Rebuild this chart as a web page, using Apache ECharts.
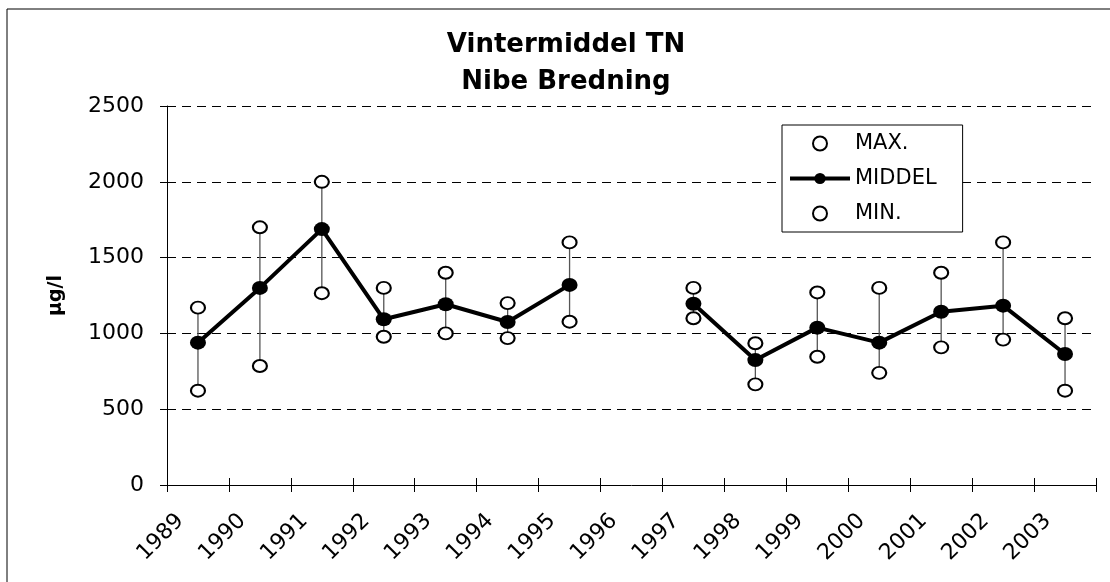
<!DOCTYPE html>
<html>
<head>
<meta charset="utf-8">
<script src="https://cdn.jsdelivr.net/npm/echarts@6/dist/echarts.min.js"></script>
<style>
html,body{margin:0;padding:0;background:#fff;}
#c{width:1110px;height:582px;}
</style>
</head>
<body>
<div id="c"></div>
<script>
var years = [1989, 1990, 1991, 1992, 1993, 1994, 1995, 1996, 1997, 1998, 1999, 2000, 2001, 2002, 2003];
var maxVals = [1170, 1700, 2000, 1300, 1400, 1200, 1600, null, 1300, 935, 1270, 1300, 1400, 1600, 1100];
var middelVals = [939, 1300, 1688, 1093, 1192, 1075, 1320, null, 1196, 824, 1038, 939, 1143, 1183, 864];
var minVals = [622, 785, 1265, 978, 1000, 969, 1077, null, 1100, 664, 846, 740, 908, 959, 622];
var yTicks = [0, 500, 1000, 1500, 2000, 2500];

var FONT = 'DejaVu Sans';
function pairs(vals) {
  return years.map(function (y, i) { return [y + 0.5, vals[i]]; });
}
var hiLo = years.map(function (y, i) { return [y + 0.5, minVals[i], maxVals[i]]; })
  .filter(function (d) { return d[1] != null && d[2] != null; });

var chart = echarts.init(document.getElementById('c'), null, {renderer: 'canvas'});
var option = {
  animation: false,
  backgroundColor: '#fff',
  graphic: [{
    type: 'rect', z: -10, silent: true,
    shape: {x: 7, y: 9, width: 1200, height: 700},
    style: {fill: 'none', stroke: '#000', lineWidth: 1}
  }],
  title: {
    text: 'Vintermiddel TN\nNibe Bredning',
    left: 561, top: 22, textAlign: 'center',
    textStyle: {fontFamily: FONT, fontWeight: 'bold', fontSize: 26, lineHeight: 37, color: '#000'}
  },
  legend: {
    data: ['MAX.', 'MIDDEL', 'MIN.'],
    orient: 'vertical', left: 782, top: 125,
    padding: [8, 26, 8, 6],
    itemWidth: 60, itemHeight: 14, itemGap: 14,
    borderColor: '#000', borderWidth: 1, backgroundColor: '#fff',
    lineStyle: {width: 4},
    textStyle: {fontFamily: FONT, fontSize: 21, color: '#000'}
  },
  grid: {left: 167, right: 14, top: 106, bottom: 97, containLabel: false},
  xAxis: [{
    type: 'value', min: 1989, max: 2004, interval: 1,
    axisLine: {show: true, lineStyle: {color: '#000', width: 1}},
    axisTick: {show: true, length: 7, lineStyle: {color: '#000'}},
    splitLine: {show: false},
    axisLabel: {
      rotate: 45, margin: 19, verticalAlign: 'top', lineHeight: 38,
      showMinLabel: true, hideOverlap: false,
      fontFamily: FONT, fontSize: 22, color: '#000',
      formatter: function (v) { return years.indexOf(v) >= 0 ? String(v) : ''; }
    }
  }, {
    type: 'value', min: 1989, max: 2004, interval: 1, position: 'bottom',
    axisLine: {show: false},
    axisTick: {show: true, inside: true, length: 7, lineStyle: {color: '#000'}},
    splitLine: {show: false},
    axisLabel: {show: false}
  }],
  yAxis: {
    type: 'value', min: yTicks[0], max: yTicks[yTicks.length - 1], interval: 500,
    name: 'µg/l', nameLocation: 'middle', nameGap: 101,
    nameTextStyle: {fontFamily: FONT, fontWeight: 'bold', fontSize: 19, color: '#000'},
    axisLine: {show: true, lineStyle: {color: '#000', width: 1}},
    axisTick: {show: true, length: 7, lineStyle: {color: '#000'}},
    splitLine: {show: true, lineStyle: {color: '#000', width: 1, type: [9, 6]}},
    axisLabel: {margin: 23, fontFamily: FONT, fontSize: 22, color: '#000',
      showMinLabel: true, hideOverlap: false,
      formatter: function (v) { return String(v); }}
  },
  series: [{
    type: 'custom', name: 'hilo', silent: true, z: 1,
    data: hiLo,
    renderItem: function (params, api) {
      var p1 = api.coord([api.value(0), api.value(1)]);
      var p2 = api.coord([api.value(0), api.value(2)]);
      return {type: 'line', shape: {x1: p1[0], y1: p1[1], x2: p2[0], y2: p2[1]},
        style: {stroke: '#555', lineWidth: 1.3}};
    },
    encode: {x: 0, y: [1, 2]}
  }, {
    type: 'scatter', name: 'MAX.', z: 3,
    data: pairs(maxVals),
    symbol: 'circle', symbolSize: [14, 12],
    itemStyle: {color: '#fff', borderColor: '#000', borderWidth: 2, opacity: 1}
  }, {
    type: 'line', name: 'MIDDEL', z: 4,
    data: pairs(middelVals), connectNulls: false,
    symbol: 'circle', symbolSize: [16, 14], showSymbol: true,
    lineStyle: {color: '#000', width: 4},
    itemStyle: {color: '#000', borderColor: '#000', borderWidth: 0}
  }, {
    type: 'scatter', name: 'MIN.', z: 3,
    data: pairs(minVals),
    symbol: 'circle', symbolSize: [14, 12],
    itemStyle: {color: '#fff', borderColor: '#000', borderWidth: 2, opacity: 1}
  }]
};
chart.setOption(option);
</script>
</body>
</html>
